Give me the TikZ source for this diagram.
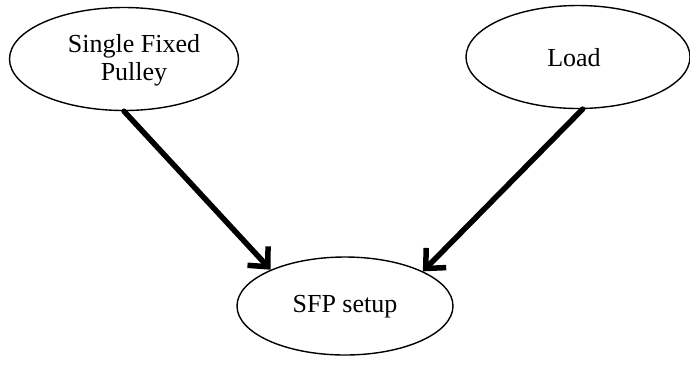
\documentclass[tikz,border=0pt]{standalone}
\usepackage{fontspec}
\setmainfont{Liberation Serif}
\usetikzlibrary{shapes.geometric,arrows.meta}
\begin{document}
\begin{tikzpicture}[x=1pt,y=-1pt,
  oval/.style={ellipse,draw=black,line width=1.4pt,fill=white,inner sep=0pt},
  lbl/.style={font=\fontsize{26}{28}\selectfont,align=center,inner sep=0pt},
  link/.style={line width=5.5pt,line cap=round,
    -{Straight Barb[length=15pt,width=28pt,line width=5.5pt]}}]
  \useasboundingbox (0,0) rectangle (690,365);
  % the three ovals
  \node[oval,minimum width=229pt,minimum height=103pt] (pulley) at (124,59) {};
  \node[oval,minimum width=224pt,minimum height=103pt] (load) at (578,57) {};
  \node[oval,minimum width=216pt,minimum height=98pt] (setup) at (345,306) {};
  % their texts
  \node[lbl] (pulleytxt) at (134,60) {Single Fixed\\Pulley};
  \node[lbl] (loadtxt) at (574,58) {Load};
  \node[lbl] (setuptxt) at (345,307) {SFP setup};
  % connectors
  \draw[link] (pulley.south) -- (setup.154);
  \draw[link] (load.-85) -- (setup.24);
\end{tikzpicture}
\end{document}
